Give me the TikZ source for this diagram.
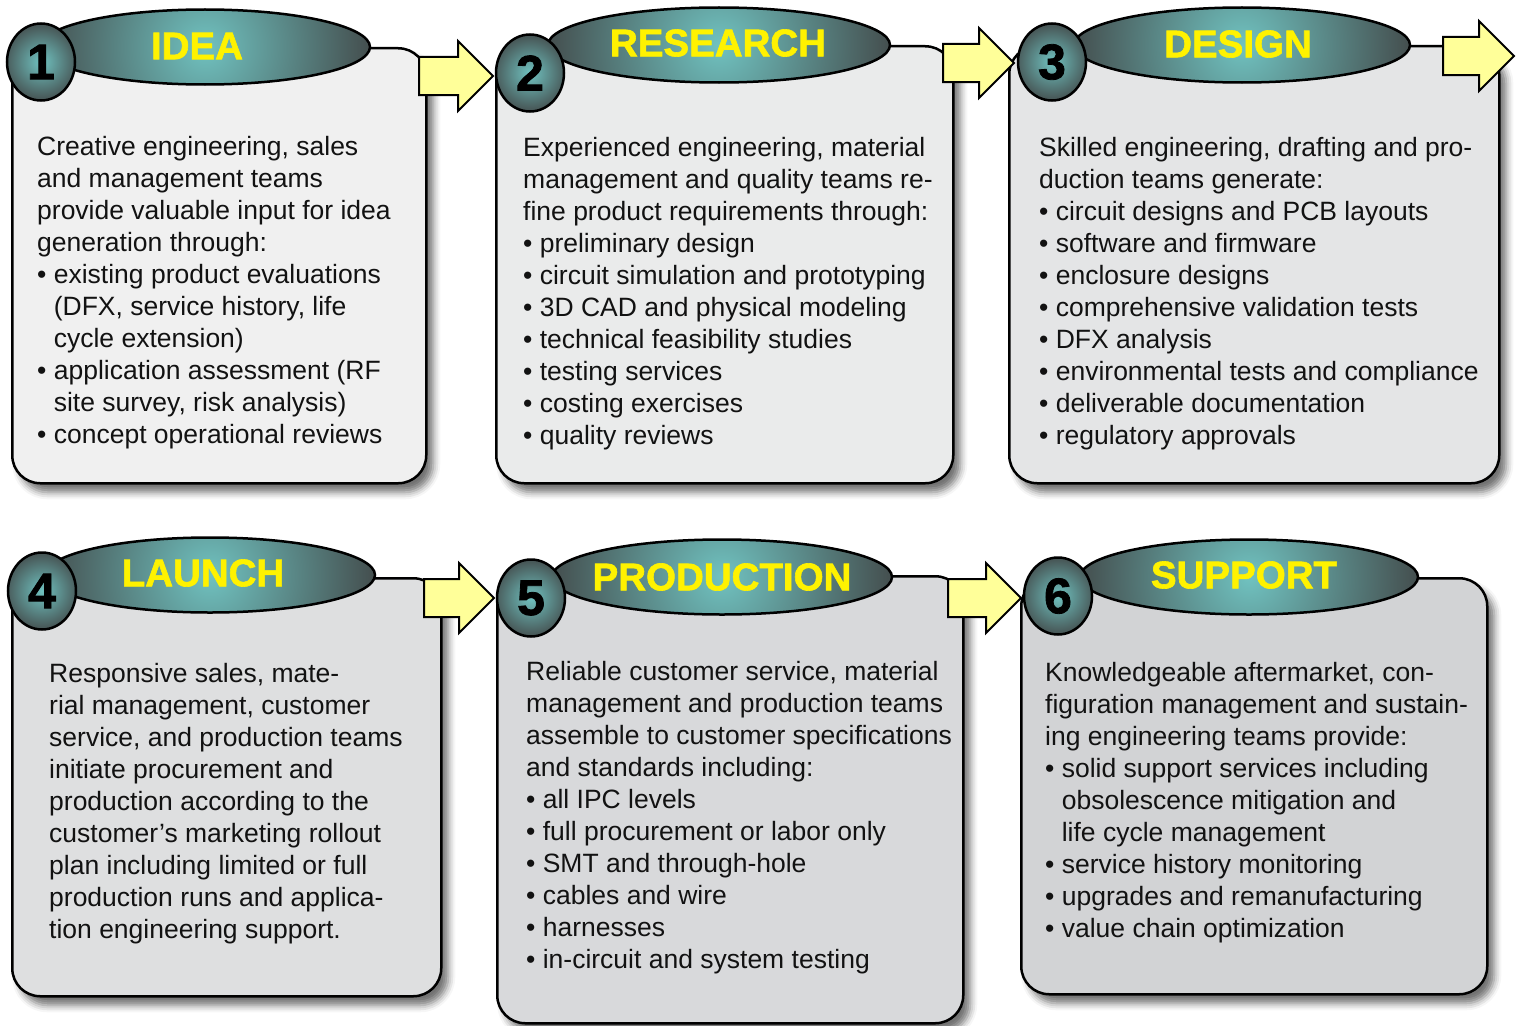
\documentclass[tikz,border=0pt]{standalone}
\usepackage{fontspec}
\setmainfont{Liberation Sans}
\newfontfamily\heavyfont[FakeBold=1.6]{Liberation Sans Bold}
\usetikzlibrary{shapes.geometric,shapes.arrows,shadows.blur}
\definecolor{tealc}{RGB}{112,194,192}
\definecolor{darkc}{RGB}{68,78,78}
\definecolor{ttlyel}{RGB}{255,242,0}
\definecolor{arrowyel}{RGB}{255,255,153}
\definecolor{txtc}{RGB}{18,18,18}
\definecolor{fa}{RGB}{240,240,240}
\definecolor{fb}{RGB}{234,235,235}
\definecolor{fc}{RGB}{228,229,230}
\definecolor{fd}{RGB}{222,223,224}
\definecolor{fe}{RGB}{216,217,219}
\definecolor{ff}{RGB}{210,211,213}
\newcommand\bxfont{\fontsize{26.5}{32}\selectfont}
\newcommand\fl{\rule{0pt}{20pt}}
\newcommand\myb{•\ }
\newcommand\myi{\phantom{•\ }}
\tikzset{
  box/.style={draw=black, line width=2.5pt, rounded corners=28pt, anchor=north west, inner sep=0,
    blur shadow={shadow xshift=7pt, shadow yshift=-9pt, shadow blur radius=7pt, shadow opacity=55}},
  ell/.style={ellipse, draw=black, line width=2.5pt, minimum width={2*#1}, minimum height=75, inner sep=0,
    path picture={\shade[inner color=tealc, outer color=darkc] (path picture bounding box.center) circle (#1pt);}},
  num/.style={ellipse, draw=black, line width=2.5pt, minimum width=68, minimum height=77, inner sep=0,
    font=\fontsize{50}{50}\selectfont\heavyfont, text=black,
    path picture={\shade[inner color=tealc, outer color=darkc] (path picture bounding box.center) circle (40pt);}},
  ttl/.style={font=\fontsize{38.5}{38.5}\selectfont\heavyfont, text=ttlyel, inner sep=0},
  arr/.style={single arrow, draw=black, line width=2pt, fill=arrowyel,
    single arrow head extend=16pt, inner xsep=0pt, inner ysep=18pt, anchor=tail},
  body/.style={anchor=north west, inner sep=0, align=left, font=\bxfont, text=txtc}
}
\begin{document}
\begin{tikzpicture}[x=1pt,y=-1pt]
\useasboundingbox (0,0) rectangle (1520,1025);
% boxes
\node[box, fill=fa, minimum width=414, minimum height=435] (box1) at (11,47) {};
\node[ell=165] (ell1) at (205,47) {};
\node[num] (num1) at (41,62) {1};
\node[box, fill=fb, minimum width=457, minimum height=437] (box2) at (495,45) {};
\node[ell=171] (ell2) at (719,45) {};
\node[num] (num2) at (530,73) {2};
\node[box, fill=fc, minimum width=490, minimum height=437] (box3) at (1008,45) {};
\node[ell=168] (ell3) at (1242,45) {};
\node[num] (num3) at (1052,62) {3};
\node[box, fill=fd, minimum width=429, minimum height=418] (box4) at (11,577) {};
\node[ell=165] (ell4) at (210,575) {};
\node[num] (num4) at (42,591) {4};
\node[box, fill=fe, minimum width=466, minimum height=447] (box5) at (496,575) {};
\node[ell=170] (ell5) at (722,577) {};
\node[num] (num5) at (531,598) {5};
\node[box, fill=ff, minimum width=466, minimum height=416] (box6) at (1020,577) {};
\node[ell=169] (ell6) at (1249,577) {};
\node[num] (num6) at (1058,596) {6};
% titles
\node[ttl] (t1) at (197,46) {IDEA};
\node[ttl] (t2) at (718,43) {RESEARCH};
\node[ttl] (t3) at (1238,44) {DESIGN};
\node[ttl] (t4) at (203,573) {LAUNCH};
\node[ttl] (t5) at (722,577) {PRODUCTION};
\node[ttl] (t6) at (1244,575) {SUPPORT};
% arrows
\node[arr, minimum height=74] (a1) at (418,76) {};
\node[arr, minimum height=71] (a2) at (942,63) {};
\node[arr, minimum height=71] (a3) at (1442,56) {};
\node[arr, minimum height=70] (a4) at (423,598) {};
\node[arr, minimum height=73] (a5) at (947,598) {};
% texts
\node[body] (x1) at (37,135) {\fl Creative engineering, sales\\
and management teams\\
provide valuable input for idea\\
generation through:\\
\myb existing product evaluations\\
\myi(DFX, service history, life\\
\myi cycle extension)\\
\myb application assessment (RF\\
\myi site survey, risk analysis)\\
\myb concept operational reviews};
\node[body] (x2) at (523,136) {\fl Experienced engineering, material\\
management and quality teams re-\\
fine product requirements through:\\
\myb preliminary design\\
\myb circuit simulation and prototyping\\
\myb 3D CAD and physical modeling\\
\myb technical feasibility studies\\
\myb testing services\\
\myb costing exercises\\
\myb quality reviews};
\node[body] (x3) at (1039,136) {\fl Skilled engineering, drafting and pro-\\
duction teams generate:\\
\myb circuit designs and PCB layouts\\
\myb software and firmware\\
\myb enclosure designs\\
\myb comprehensive validation tests\\
\myb DFX analysis\\
\myb environmental tests and compliance\\
\myb deliverable documentation\\
\myb regulatory approvals};
\node[body] (x4) at (49,662) {\fl Responsive sales, mate-\\
rial management, customer\\
service, and production teams\\
initiate procurement and\\
production according to the\\
customer’s marketing rollout\\
plan including limited or full\\
production runs and applica-\\
tion engineering support.};
\node[body] (x5) at (526,660) {\fl Reliable customer service, material\\
management and production teams\\
assemble to customer specifications\\
and standards including:\\
\myb all IPC levels\\
\myb full procurement or labor only\\
\myb SMT and through-hole\\
\myb cables and wire\\
\myb harnesses\\
\myb in-circuit and system testing};
\node[body] (x6) at (1045,661) {\fl Knowledgeable aftermarket, con-\\
figuration management and sustain-\\
ing engineering teams provide:\\
\myb solid support services including\\
\myi obsolescence mitigation and\\
\myi life cycle management\\
\myb service history monitoring\\
\myb upgrades and remanufacturing\\
\myb value chain optimization};
\end{tikzpicture}
\end{document}
